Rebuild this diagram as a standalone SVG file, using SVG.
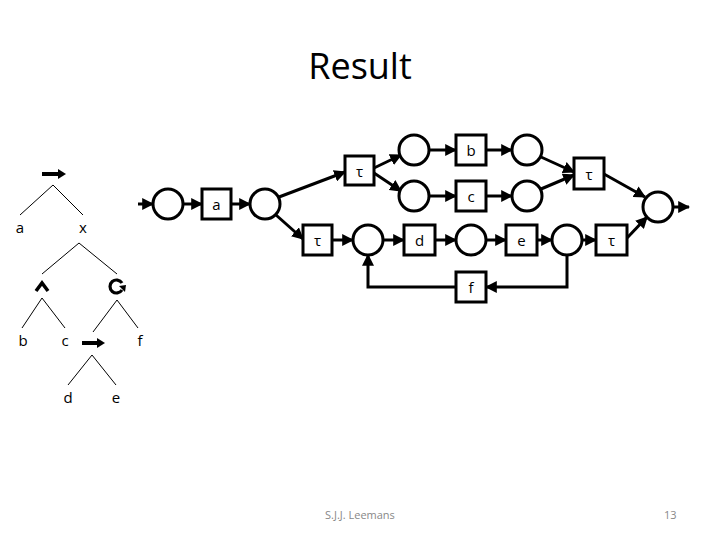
<svg xmlns="http://www.w3.org/2000/svg" width="720" height="540" viewBox="0 0 720 540">
<style>
.pl{fill:#fff;stroke:#000;stroke-width:3}
.tr{fill:#fff;stroke:#000;stroke-width:3}
.lb{font-family:"Open Sans","Liberation Sans",sans-serif;font-size:15px;fill:#000;text-anchor:middle;dominant-baseline:central}
.tl{font-family:"Open Sans","Liberation Sans",sans-serif;font-size:15px;fill:#000;text-anchor:middle}
.e{fill:none;stroke:#000;stroke-width:3;marker-end:url(#ah)}
.tw{stroke:#000;stroke-width:1;fill:none}
.ft{font-family:"Open Sans","Liberation Sans",sans-serif;font-size:11px;fill:#888}
</style>
<defs>
<marker id="ah" markerWidth="4" markerHeight="4" refX="3.6" refY="2" orient="auto" markerUnits="strokeWidth">
<path d="M0,0 L4,2 L0,4 Z" fill="#000"/>
</marker>
</defs>
<rect width="720" height="540" fill="#fff"/>
<text x="360" y="79" text-anchor="middle" font-family="'Open Sans','Liberation Sans',sans-serif" font-size="36">Result</text>

<g id="tree">
<path d="M42,174 H60" stroke="#000" stroke-width="4"/><path d="M58,169 L66,174 L58,179 Z" fill="#000"/>
<path class="tw" d="M53,185 L20,215 M53,185 L83,215"/>
<text class="tl" x="20" y="233">a</text>
<text class="tl" x="83" y="233">x</text>
<path class="tw" d="M79,243 L42,274 M79,243 L117,274"/>
<path d="M36,291 L42,283 L48,291" fill="none" stroke="#000" stroke-width="3.5"/>
<path d="M122,283 A6.5,6.5 0 1 0 122,290" fill="none" stroke="#000" stroke-width="3.2"/>
<path d="M119,286 L126,285 L125,292 Z" fill="#000"/>
<path class="tw" d="M42,298 L22,328 M42,298 L65,328"/>
<text class="tl" x="23" y="346">b</text>
<text class="tl" x="65" y="346">c</text>
<path class="tw" d="M117,300 L93,332 M117,300 L138,328"/>
<text class="tl" x="140" y="346">f</text>
<path d="M82,343 H99" stroke="#000" stroke-width="4"/><path d="M97,338 L105,343 L97,348 Z" fill="#000"/>
<path class="tw" d="M92,355 L68,385 M92,355 L116,385"/>
<text class="tl" x="68" y="403">d</text>
<text class="tl" x="116" y="403">e</text>
</g>

<g id="edges">
<path class="e" d="M138,204 H153"/>
<path class="e" d="M183,204 H202"/>
<path class="e" d="M231,204 H250"/>
<path class="e" d="M279,197 L345,172"/>
<path class="e" d="M276,215 L303,239"/>
<path class="e" d="M374,168 L401,155"/>
<path class="e" d="M374,173 L401,191"/>
<path class="e" d="M332,240 H353"/>
<path class="e" d="M383,240 H404"/>
<path class="e" d="M429,150 H456"/>
<path class="e" d="M486,150 H512"/>
<path class="e" d="M429,196 H456"/>
<path class="e" d="M486,196 H512"/>
<path class="e" d="M541,157 L574,172"/>
<path class="e" d="M541,189 L574,175"/>
<path class="e" d="M604,174 L645,197"/>
<path class="e" d="M627,238 L647,217"/>
<path class="e" d="M673,207 H689"/>
<path class="e" d="M435,240 H456"/>
<path class="e" d="M486,240 H506"/>
<path class="e" d="M537,240 H552"/>
<path class="e" d="M582,240 H596"/>
<path class="e" d="M567,255 V287 H486"/>
<path class="e" d="M456,287 H368 V255"/>
</g>

<g id="p1"><circle class="pl" cx="168" cy="204" r="15"/></g>
<g id="ta"><rect class="tr" x="202" y="189" width="29" height="30"/><text class="lb" x="216.5" y="204">a</text></g>
<g id="p2"><circle class="pl" cx="265" cy="204" r="15"/></g>
<g id="t1"><rect class="tr" x="345" y="156" width="29" height="29"/><text class="lb" x="359.5" y="170.5">τ</text></g>
<g id="t2"><rect class="tr" x="303" y="225" width="29" height="30"/><text class="lb" x="317.5" y="240">τ</text></g>
<g id="p3"><circle class="pl" cx="414" cy="150" r="15"/></g>
<g id="p4"><circle class="pl" cx="414" cy="196" r="15"/></g>
<g id="tb"><rect class="tr" x="456" y="135" width="30" height="30"/><text class="lb" x="471" y="150">b</text></g>
<g id="tc"><rect class="tr" x="456" y="181" width="30" height="30"/><text class="lb" x="471" y="196">c</text></g>
<g id="p5"><circle class="pl" cx="527" cy="150" r="15"/></g>
<g id="p6"><circle class="pl" cx="527" cy="196" r="15"/></g>
<g id="t3"><rect class="tr" x="574" y="158" width="30" height="31"/><text class="lb" x="589" y="173.5">τ</text></g>
<g id="p7"><circle class="pl" cx="658" cy="207" r="15"/></g>
<g id="p8"><circle class="pl" cx="368" cy="240" r="15"/></g>
<g id="td"><rect class="tr" x="404" y="225" width="31" height="30"/><text class="lb" x="419.5" y="240">d</text></g>
<g id="p9"><circle class="pl" cx="471" cy="240" r="15"/></g>
<g id="te"><rect class="tr" x="506" y="225" width="31" height="30"/><text class="lb" x="521.5" y="240">e</text></g>
<g id="p10"><circle class="pl" cx="567" cy="240" r="15"/></g>
<g id="t4"><rect class="tr" x="596" y="225" width="31" height="30"/><text class="lb" x="611.5" y="240">τ</text></g>
<g id="tf"><rect class="tr" x="456" y="272" width="30" height="30"/><text class="lb" x="471" y="287">f</text></g>

<text class="ft" x="325" y="519">S.J.J. Leemans</text>
<text class="ft" x="664" y="519">13</text>
</svg>
